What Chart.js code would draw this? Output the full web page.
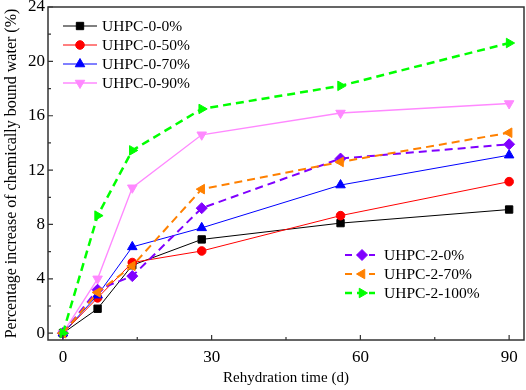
<!DOCTYPE html>
<html><head><meta charset="utf-8">
<script src="https://cdn.jsdelivr.net/npm/chart.js@4/dist/chart.umd.min.js"></script>
<style>html,body{margin:0;padding:0;background:#fff}#wrap{width:526px;height:390px}</style>
</head><body><div id="wrap"><canvas id="c" width="526" height="390"></canvas></div>
<script>
const days = [0, 7, 14, 28, 56, 90];
const seriesNames = ['UHPC-0-0%', 'UHPC-0-50%', 'UHPC-0-70%', 'UHPC-0-90%', 'UHPC-2-0%', 'UHPC-2-70%', 'UHPC-2-100%'];
const uhpc0_0 = [0, 1.8, 5.0, 6.9, 8.1, 9.1];
const uhpc0_50 = [0, 2.6, 5.2, 6.05, 8.65, 11.15];
const uhpc0_70 = [0, 2.8, 6.35, 7.75, 10.9, 13.1];
const uhpc0_90 = [0, 4.0, 10.7, 14.6, 16.2, 16.9];
const uhpc2_0 = [0, 3.2, 4.2, 9.2, 12.85, 13.9];
const uhpc2_70 = [0, 3.0, 4.95, 10.6, 12.6, 14.75];
const uhpc2_100 = [0, 8.65, 13.45, 16.5, 18.2, 21.35];
const xTicks = [0, 30, 60, 90];
const yTicks = [0, 4, 8, 12, 16, 20, 24];
const xMinor = [15, 45, 75];
const yMinor = [2, 6, 10, 14, 18, 22];

const allValues = [uhpc0_0, uhpc0_50, uhpc0_70, uhpc0_90, uhpc2_0, uhpc2_70, uhpc2_100];
const styles = [
  {c:'#000000', ps:'rect', rot:0, r:5.2, w:1, dash:[]},
  {c:'#ff0000', ps:'circle', rot:0, r:4.3, w:1, dash:[]},
  {c:'#0000ff', ps:'triangle', rot:0, r:5.5, w:1, dash:[]},
  {c:'#ff88ff', ps:'triangle', rot:180, r:5.5, w:1.3, dash:[]},
  {c:'#8000ff', ps:'rectRot', rot:0, r:5.5, w:2, dash:[8,5]},
  {c:'#ff8000', ps:'triangle', rot:-90, r:5.5, w:2, dash:[8,5]},
  {c:'#00ff00', ps:'triangle', rot:90, r:5.5, w:2.5, dash:[8,5]}
];
const FONT = "'Liberation Serif', 'Times New Roman', serif";

const datasets = allValues.map((vals, i) => ({
  label: seriesNames[i],
  data: days.map((d, j) => ({x: d, y: vals[j]})),
  borderColor: styles[i].c,
  backgroundColor: styles[i].c,
  borderWidth: styles[i].w,
  borderDash: styles[i].dash,
  pointStyle: styles[i].ps,
  pointRotation: styles[i].rot,
  pointRadius: styles[i].r,
  pointBorderWidth: 1,
  pointBorderColor: styles[i].c,
  pointBackgroundColor: styles[i].c,
  tension: 0,
  fill: false,
  clip: 8,
  order: allValues.length - 1 - i
}));

const decorPlugin = {
  id: 'decor',
  afterDraw(chart) {
    const ctx = chart.ctx, a = chart.chartArea;
    const xs = chart.scales.x, ys = chart.scales.y;
    ctx.save();
    ctx.strokeStyle = '#333';
    ctx.lineWidth = 1.5;
    ctx.strokeRect(a.left, a.top, a.right - a.left, a.bottom - a.top);
    ctx.lineWidth = 1.2;
    ctx.beginPath();
    xTicks.forEach(v => { const p = xs.getPixelForValue(v); ctx.moveTo(p, a.bottom); ctx.lineTo(p, a.bottom - 5); });
    xMinor.forEach(v => { const p = xs.getPixelForValue(v); ctx.moveTo(p, a.bottom); ctx.lineTo(p, a.bottom - 3); });
    yTicks.forEach(v => { const p = ys.getPixelForValue(v); ctx.moveTo(a.left, p); ctx.lineTo(a.left + 5, p); });
    yMinor.forEach(v => { const p = ys.getPixelForValue(v); ctx.moveTo(a.left, p); ctx.lineTo(a.left + 3, p); });
    ctx.stroke();

    const drawItem = (i, x0, x1, mx, tx, y) => {
      const s = styles[i];
      ctx.save();
      ctx.strokeStyle = s.c;
      ctx.lineWidth = s.w;
      ctx.setLineDash(s.dash.length ? [7, 5] : []);
      ctx.beginPath(); ctx.moveTo(x0, y); ctx.lineTo(x1, y); ctx.stroke();
      ctx.setLineDash([]);
      ctx.fillStyle = s.c; ctx.strokeStyle = s.c; ctx.lineWidth = 1;
      Chart.helpers.drawPoint(ctx, {pointStyle: s.ps, rotation: s.rot, radius: s.r, borderWidth: 1}, mx, y);
      ctx.fillStyle = '#000';
      ctx.font = '15.5px ' + FONT;
      ctx.textBaseline = 'middle';
      ctx.textAlign = 'left';
      ctx.fillText(seriesNames[i], tx, y + 1);
      ctx.restore();
    };
    [26, 45, 64, 83].forEach((y, k) => drawItem(k, 63, 97, 80, 102, y));
    [255, 274, 293].forEach((y, k) => drawItem(k + 4, 345, 375, 362, 384, y));
    ctx.restore();
  }
};

new Chart(document.getElementById('c'), {
  type: 'line',
  data: {datasets},
  options: {
    responsive: false,
    animation: false,
    devicePixelRatio: 1,
    layout: {autoPadding: false, padding: {top: 7, right: 2, left: 0, bottom: 0}},
    plugins: {legend: {display: false}, tooltip: {enabled: false}},
    scales: {
      x: {
        type: 'linear', min: -3, max: 93,
        afterBuildTicks: s => { s.ticks = xTicks.map(v => ({value: v})); },
        afterFit: s => { s.height = 50; s.paddingLeft = 0; s.paddingRight = 0; },
        grid: {display: false, drawTicks: false},
        border: {display: false},
        ticks: {color: '#000', font: {family: FONT, size: 17}, padding: 7, maxRotation: 0},
        title: {display: true, text: 'Rehydration time (d)', color: '#000', font: {family: FONT, size: 15}, padding: {top: 0, bottom: 3}}
      },
      y: {
        type: 'linear', min: -0.5, max: 24,
        afterBuildTicks: s => { s.ticks = yTicks.map(v => ({value: v})); },
        afterFit: s => { s.width = 48; s.paddingTop = 0; s.paddingBottom = 0; },
        grid: {display: false, drawTicks: false},
        border: {display: false},
        ticks: {color: '#000', font: {family: FONT, size: 17}, padding: 3},
        title: {display: true, text: 'Percentage increase of chemically bound water (%)', color: '#000', font: {family: FONT, size: 16}, padding: {top: 2, bottom: 0}}
      }
    }
  },
  plugins: [decorPlugin]
});
</script></body></html>
